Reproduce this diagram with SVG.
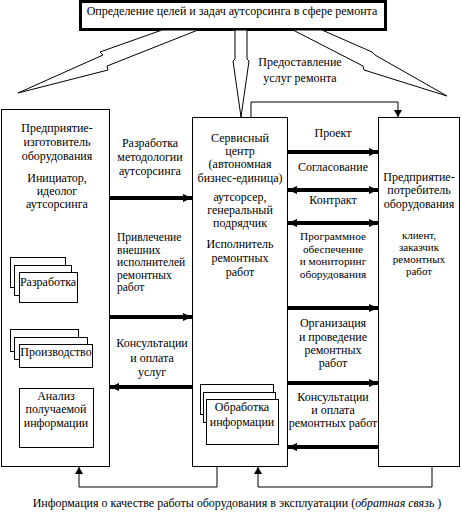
<svg xmlns="http://www.w3.org/2000/svg" width="462" height="519" viewBox="0 0 462 519" font-family="'Liberation Serif', 'DejaVu Serif', 'Times New Roman', serif">
<defs>
<marker id="ah" markerUnits="userSpaceOnUse" markerWidth="10" markerHeight="10" refX="9" refY="5" orient="auto"><path d="M0,1 L9,5 L0,9 z" fill="#000"/></marker>
<marker id="ahs" markerUnits="userSpaceOnUse" markerWidth="10" markerHeight="10" refX="9" refY="5" orient="auto-start-reverse"><path d="M0,1 L9,5 L0,9 z" fill="#000"/></marker>
<marker id="at" markerUnits="userSpaceOnUse" markerWidth="8" markerHeight="8" refX="7" refY="4" orient="auto"><path d="M0,0 L7,4 L0,8 z" fill="#000"/></marker>
<style>
text{font-family:'Liberation Serif','DejaVu Serif','Times New Roman',serif;font-size:12px;fill:#000;text-anchor:middle}
.l{text-anchor:start;font-size:11.5px}
.s{font-size:11px}
.m{font-size:11.3px}
.box{fill:#fff;stroke:#000;stroke-width:1}
.thick{stroke:#000;stroke-width:4;fill:none}
.thin{stroke:#000;stroke-width:1;fill:none}
.dash{stroke:#000;stroke-width:1;fill:none;stroke-dasharray:5,4}
.hollow{fill:#fff;stroke:#000;stroke-width:1}
</style>
</defs>
<rect width="462" height="519" fill="#fff"/>

<g id="top">
<rect x="80.5" y="1.5" width="305" height="28" fill="#fff" stroke="#000" stroke-width="3"/>
<text x="232" y="15">Определение целей и задач аутсорсинга в сфере ремонта</text>
</g>

<g id="connectors">
<polygon class="hollow" points="162,30 100,52 103,55 18,93 108,70 107,66 198,30"/>
<polygon class="hollow" points="322,30 372,52 375,55 447,96 364,70 363,66 293,30"/>
<polygon class="hollow" points="235,30 235,59 233,61 241,117 249,61 247,59 247,30"/>
<polyline class="thin" points="251,117 251,102 398,102 398,117" marker-end="url(#at)"/>
<line class="thick" x1="110" y1="198" x2="192" y2="198" marker-end="url(#ah)"/>
<line class="thick" x1="110" y1="317" x2="192" y2="317" marker-end="url(#ah)"/>
<line class="thick" x1="192" y1="387" x2="110" y2="387" marker-end="url(#ah)"/>
<line class="thick" x1="288" y1="152" x2="378" y2="152" marker-end="url(#ah)"/>
<line class="thick" x1="288" y1="190" x2="378" y2="190" marker-start="url(#ahs)" marker-end="url(#ahs)"/>
<line class="thick" x1="288" y1="223" x2="378" y2="223" marker-start="url(#ahs)" marker-end="url(#ahs)"/>
<line class="thick" x1="288" y1="308" x2="378" y2="308" marker-end="url(#ah)"/>
<line class="thick" x1="288" y1="383" x2="378" y2="383" marker-end="url(#ah)"/>
<line class="thick" x1="378" y1="447" x2="288" y2="447" marker-end="url(#ah)"/>
<line class="thin" x1="40" y1="303" x2="40" y2="325" marker-end="url(#at)"/>
<polyline class="dash" points="93,412 98,412 98,290 78,290" marker-end="url(#at)"/>
<line class="dash" x1="79" y1="448" x2="79" y2="467"/>
<line class="dash" x1="217" y1="445" x2="217" y2="467"/>
<line class="dash" x1="258" y1="445" x2="258" y2="467"/>
<polyline class="thin" points="217,467 217,487 79,487 79,467" marker-end="url(#at)"/>
<polyline class="thin" points="432,467 432,487 258,487 258,467" marker-end="url(#at)"/>
</g>

<g id="left-box">
<rect class="box" x="1.5" y="109.5" width="108" height="357" fill="none"/>
<text x="57" y="132">Предприятие-</text>
<text x="57" y="146">изготовитель</text>
<text x="57" y="160">оборудования</text>
<text x="57" y="182">Инициатор,</text>
<text x="57" y="195">идеолог</text>
<text x="57" y="208">аутсорсинга</text>
</g>

<g id="razrabotka">
<rect class="box" x="10.5" y="257.5" width="55" height="30"/>
<rect class="box" x="14.5" y="265.5" width="57" height="30"/>
<rect class="box" x="19.5" y="272.5" width="58" height="30"/>
<text x="48" y="286">Разработка</text>
</g>

<g id="proizvodstvo">
<rect class="box" x="10.5" y="329.5" width="68" height="22"/>
<rect class="box" x="14.5" y="337.5" width="73" height="22"/>
<rect class="box" x="19.5" y="344.5" width="73" height="23"/>
<text x="56" y="356">Производство</text>
</g>

<g id="analiz">
<rect class="box" x="19.5" y="388.5" width="74" height="59"/>
<text x="56" y="400">Анализ</text>
<text x="56" y="413">получаемой</text>
<text x="56" y="427">информации</text>
</g>

<g id="labels-left">
<text x="150" y="147">Разработка</text>
<text x="150" y="161">методологии</text>
<text x="150" y="175">аутсорсинга</text>
<text class="l" x="117" y="241">Привлечение</text>
<text class="l" x="117" y="253.5">внешних</text>
<text class="l" x="117" y="266">исполнителей</text>
<text class="l" x="117" y="278.5">ремонтных</text>
<text class="l" x="117" y="291">работ</text>
<text x="152" y="347">Консультации</text>
<text x="152" y="362">и оплата</text>
<text x="152" y="376">услуг</text>
</g>

<g id="service">
<rect class="box" x="192.5" y="117.5" width="95" height="349"/>
<text x="240" y="142">Сервисный</text>
<text x="240" y="155">центр</text>
<text x="240" y="168">(автономная</text>
<text x="240" y="182">бизнес-единица)</text>
<text x="240" y="201">аутсорсер,</text>
<text x="240" y="214">генеральный</text>
<text x="240" y="227">подрядчик</text>
<text x="240" y="248">Исполнитель</text>
<text x="240" y="262">ремонтных</text>
<text x="240" y="276">работ</text>
</g>

<g id="obrabotka">
<rect class="box" x="200.5" y="384.5" width="73" height="30"/>
<rect class="box" x="203.5" y="392.5" width="72" height="30"/>
<rect class="box" x="206.5" y="399.5" width="72" height="45"/>
<text x="242" y="411">Обработка</text>
<text x="242" y="426">информации</text>
</g>

<g id="right-box">
<rect class="box" x="378.5" y="117.5" width="81" height="349"/>
<text x="419" y="181">Предприятие-</text>
<text x="419" y="194">потребитель</text>
<text x="419" y="208">оборудования</text>
<text class="s" x="419" y="239">клиент,</text>
<text class="s" x="419" y="251">заказчик</text>
<text class="s" x="419" y="263">ремонтных</text>
<text class="s" x="419" y="275">работ</text>
</g>

<g id="labels-right">
<text x="333" y="137">Проект</text>
<text x="333" y="171">Согласование</text>
<text x="333" y="204">Контракт</text>
<text class="m" x="333" y="240">Программное</text>
<text class="m" x="333" y="252.5">обеспечение</text>
<text class="m" x="333" y="265">и мониторинг</text>
<text class="m" x="333" y="277.5">оборудования</text>
<text x="333" y="327">Организация</text>
<text x="333" y="341">и проведение</text>
<text x="333" y="354">ремонтных</text>
<text x="333" y="367">работ</text>
<text x="333" y="401">Консультации</text>
<text x="333" y="414">и оплата</text>
<text x="333" y="427">ремонтных работ</text>
<text x="300" y="66">Предоставление</text>
<text x="300" y="82">услуг ремонта</text>
</g>

<g id="footer">
<text x="237" y="507">Информация о качестве работы оборудования в эксплуатации (<tspan font-style="italic">обратная связь</tspan> )</text>
</g>
</svg>
